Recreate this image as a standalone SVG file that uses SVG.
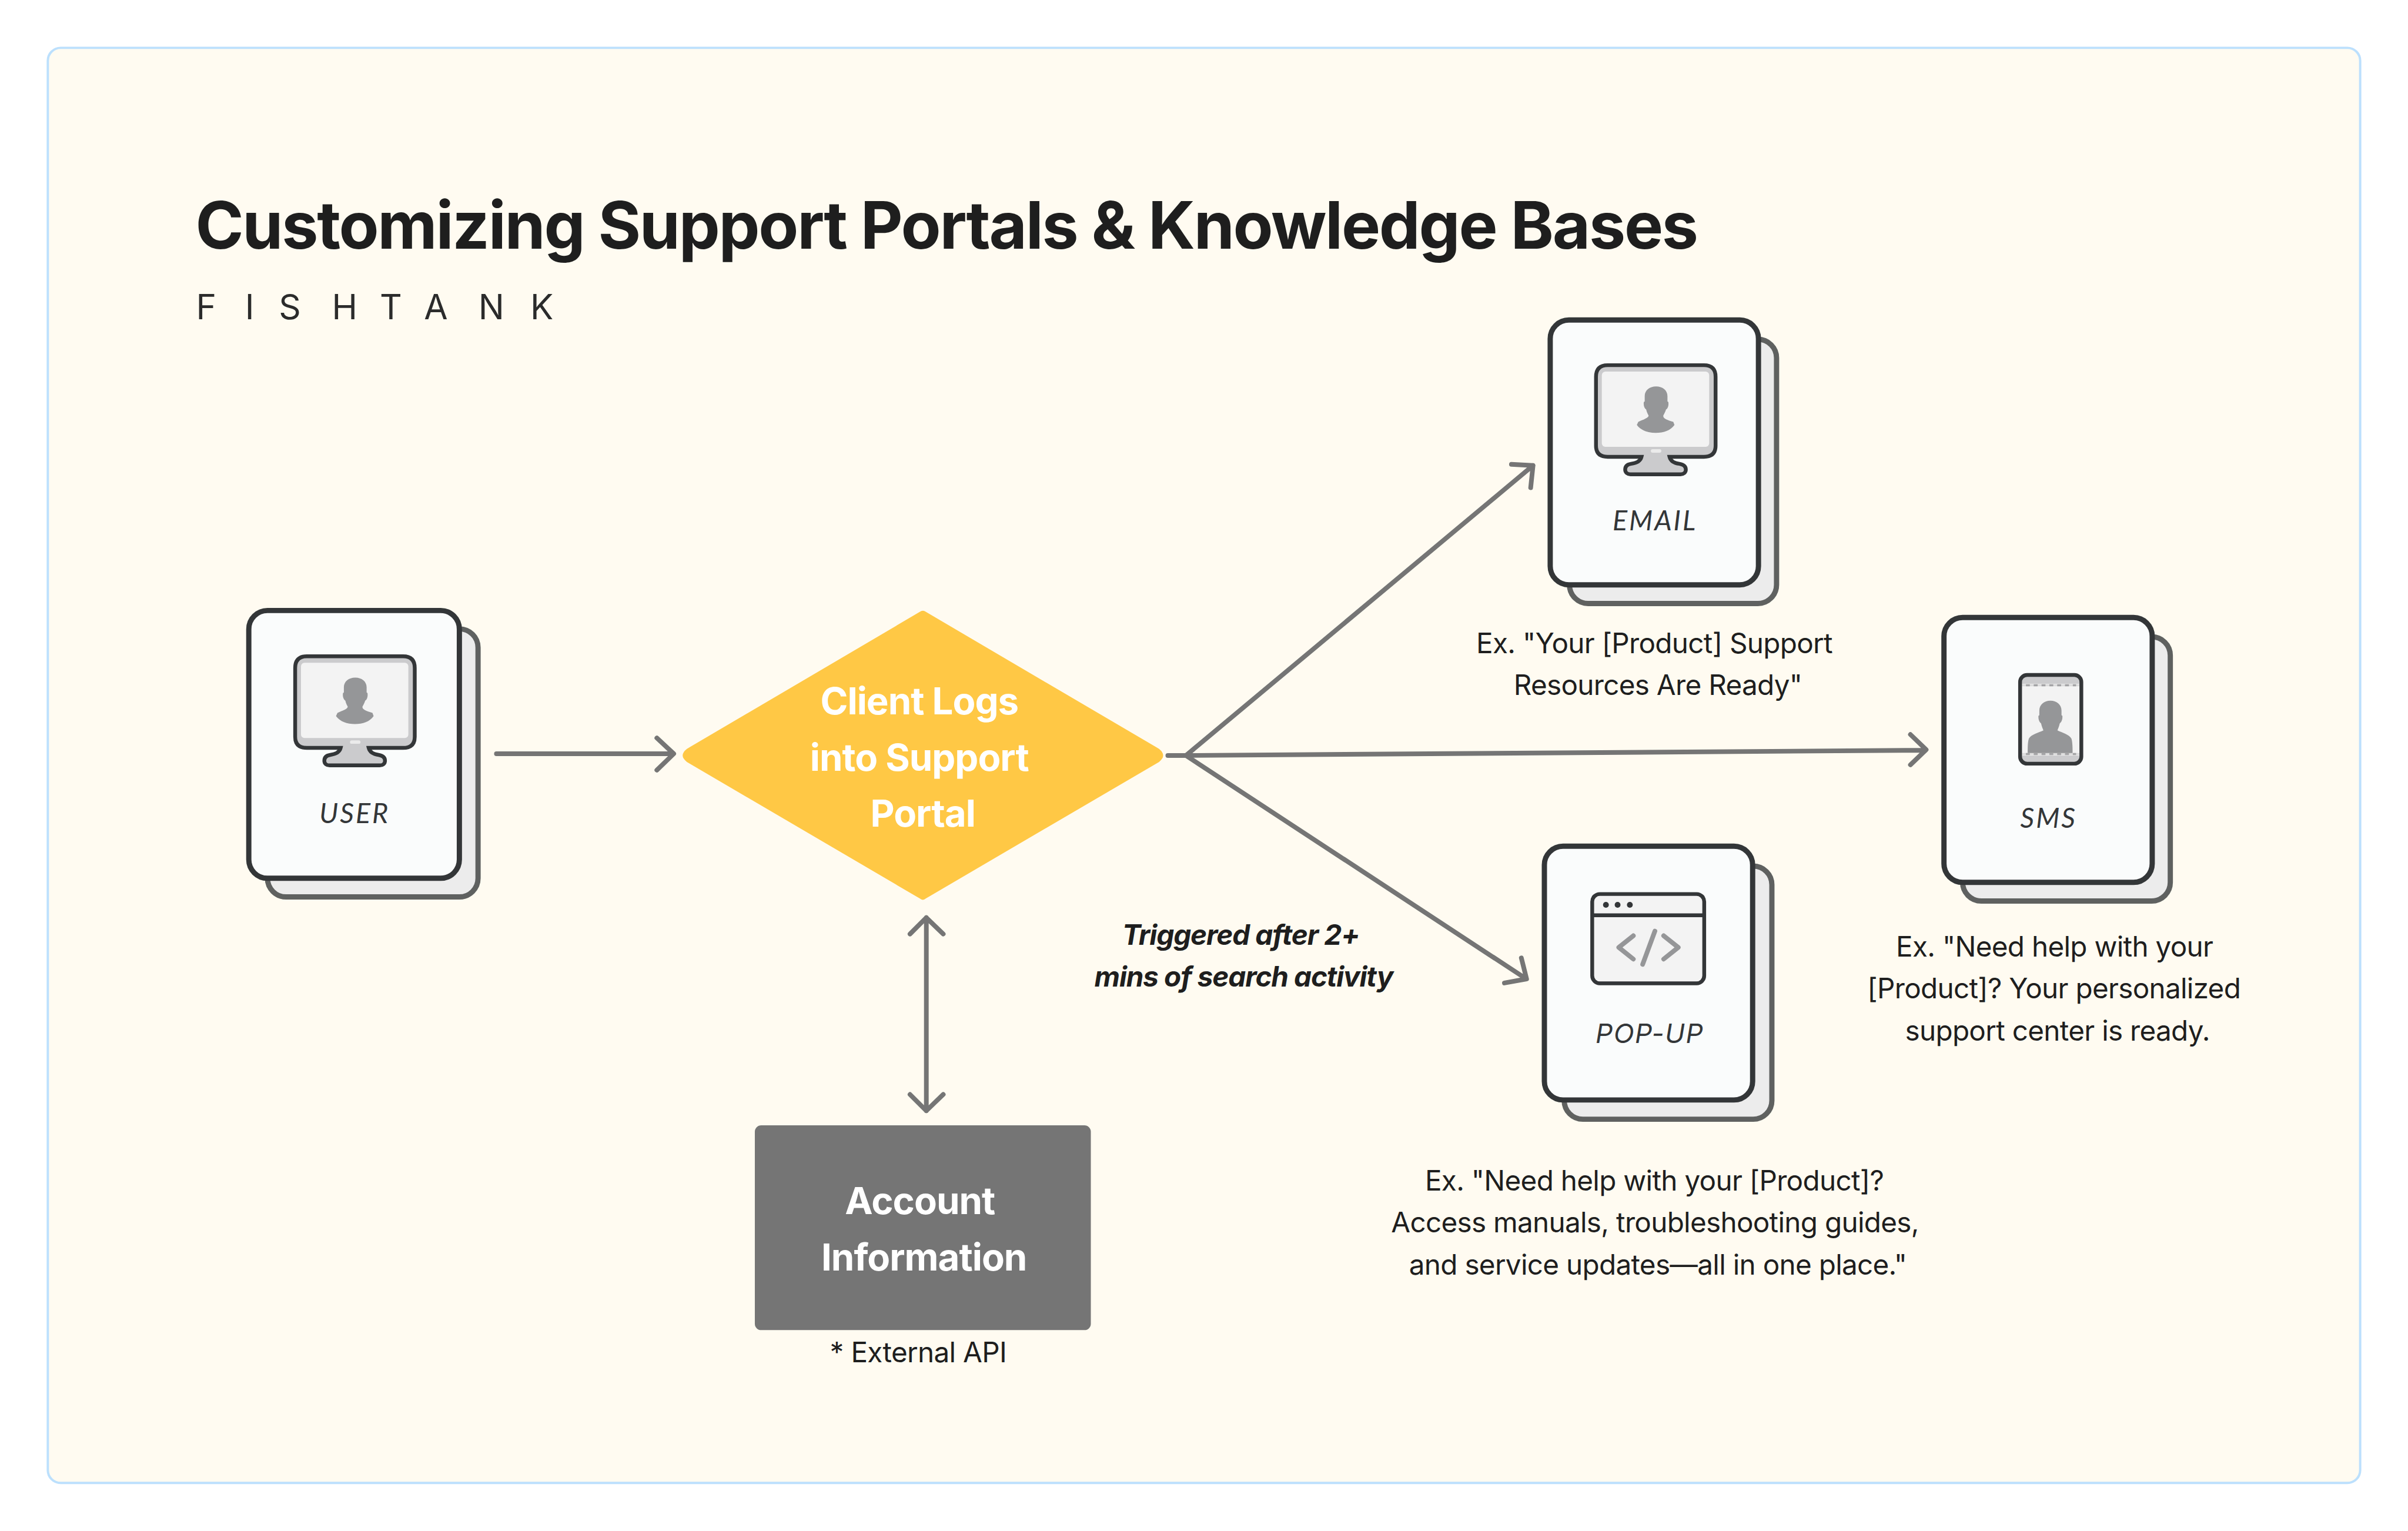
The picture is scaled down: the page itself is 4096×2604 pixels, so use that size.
<svg xmlns="http://www.w3.org/2000/svg" xmlns:xlink="http://www.w3.org/1999/xlink" width="4096" height="2604" viewBox="0 0 4096 2604">
<style>
text{font-family:Inter,"Liberation Sans",sans-serif;fill:#1e1e1e}
.title{font-size:112px;font-weight:700;letter-spacing:-2.3px}
.brand{font-size:59px;font-weight:400;fill:#2b2b2b}
.body{font-size:48px;text-anchor:middle;letter-spacing:-.7px}
.note{font-size:48px;font-weight:700;font-style:italic;text-anchor:middle;letter-spacing:-1.1px}
.wt{font-size:64px;font-weight:700;fill:#fff;text-anchor:middle;letter-spacing:-1px}
.lab{font-family:Lato,"Open Sans",sans-serif;font-size:47px;font-style:italic;fill:#333638;text-anchor:middle;letter-spacing:3px}
.lab2{font-size:46px;font-style:italic;font-weight:400;fill:#333638;text-anchor:middle;letter-spacing:1.5px}
.back{fill:#ececec;stroke:#5f6160;stroke-width:9}
.front{fill:#fafcfc;stroke:#333638;stroke-width:9}
.conn{fill:none;stroke:#757575;stroke-width:8;stroke-linecap:round;stroke-linejoin:round}
.ln{stroke:#333638;stroke-width:6.5}
.gray{fill:#959698}
</style>
<defs>
<g id="monitor">
<path d="M23 3H188Q208 3 208 23V141Q208 160 188 160H129C131 168 138 171 146 172C152 173 157 176 157 182C157 187 153 190 148 190H62C57 190 53 187 53 182C53 176 57 173 63 172C71 171 79 168 81 160H23Q3 160 3 141V23Q3 3 23 3Z" fill="#cbcbcd" class="ln"/>
<rect x="13" y="14" width="184" height="129" rx="6" fill="#f3f3f3"/>
<rect x="97" y="147" width="18" height="6" rx="3" fill="#ebebeb"/>
<path class="gray" d="M106 39.5C95 39.5 86.5 46 86.5 56V65L85 66C84 72 86 77 89 79C90 84 92 87 93 89C94 93 85 96 75.5 100L73 105.500C80 115 92 119 105.500 119C119 119 131 115 137.500 105.500L135.500 100C125 97 117 94 118.500 89C120 86 122 83 123 79C126 78 128 72 127 66L125.500 65V56C125.500 46 117 39.500 106 39.500Z"/>
</g>
</defs>
<g transform="scale(0.99225)">
<rect width="4128" height="2624" fill="#fff"/>
<rect id="panel" x="82" y="82" width="3964" height="2460" rx="22" fill="#fffbf1" stroke="#bce0fd" stroke-width="4"/>
<text class="title" x="335" y="426">Customizing Support Portals &amp; Knowledge Bases</text>
<text class="brand" x="336 420 478 569 651 727 820 909" y="547">FISHTANK</text>

<g id="connectors">
<path class="conn" d="M851 1292H1153M1126 1265L1155 1292L1126 1320"/>
<path class="conn" d="M2002 1295H2033L2628 798M2591 796L2628 798L2624 836"/>
<path class="conn" d="M2033 1295L3300 1286M3275 1259L3302 1285L3275 1311"/>
<path class="conn" d="M2033 1295L2615 1677M2608 1642L2617 1678L2579 1685"/>
<path class="conn" d="M1588 1573V1904M1560 1601L1588 1573L1617 1601M1560 1876L1588 1904L1617 1876"/>
</g>

<g id="user">
<rect class="back" x="458.500" y="1078" width="361" height="459.500" rx="32"/>
<rect class="front" x="426.500" y="1046.500" width="361" height="459" rx="32"/>
<use xlink:href="#monitor" href="#monitor" x="503" y="1122"/>
<text class="lab" x="608" y="1411">USER</text>
</g>

<g id="decision">
<path fill="#ffc845" d="M1576.600 1049Q1582 1044.500 1587.400 1049L1987 1283.600Q2001 1295 1987 1306L1587.400 1540Q1582 1545 1576.600 1540L1177.500 1306Q1163 1295 1177.500 1283.600Z"/>
<text class="wt" x="1576" y="1224">Client Logs</text>
<text class="wt" x="1576" y="1321">into Support</text>
<text class="wt" x="1582" y="1417">Portal</text>
</g>

<g id="account">
<rect x="1294" y="1929" width="576" height="351" rx="11" fill="#757575"/>
<text class="wt" x="1577" y="2081">Account</text>
<text class="wt" x="1584" y="2178">Information</text>
<text class="body" x="1574" y="2335">* External API</text>
</g>

<g id="email">
<rect class="back" x="2690.500" y="581.500" width="355" height="453" rx="32"/>
<rect class="front" x="2657.500" y="548.500" width="357" height="454" rx="32"/>
<use xlink:href="#monitor" href="#monitor" x="2733" y="623"/>
<text class="lab" x="2837" y="909">EMAIL</text>
<text class="body" x="2836" y="1120">Ex. "Your [Product] Support</text>
<text class="body" x="2842" y="1191">Resources Are Ready"</text>
</g>

<g id="sms">
<rect class="back" x="3364.500" y="1091.500" width="356" height="453" rx="32"/>
<rect class="front" x="3332.500" y="1058.500" width="357" height="454" rx="32"/>
<rect x="3463" y="1157" width="105" height="152" rx="12" fill="#f3f3f3"/>
<path fill="#cbcbcd" d="M3466 1172V1166Q3466 1160 3472 1160H3559Q3565 1160 3565 1166V1172ZM3466 1295V1300Q3466 1306 3472 1306H3559Q3565 1306 3565 1300V1295Z"/>
<path class="gray" d="M3515 1201C3504 1201 3496 1208 3496 1218V1226L3494.500 1227C3494 1233 3496 1238 3499 1240C3500 1245 3502 1249 3503 1252C3495 1256 3482 1259 3478 1266C3476 1272 3476 1282 3476 1291H3553C3553 1282 3553 1272 3551 1266C3547 1259 3535 1256 3527 1252C3528 1249 3530 1245 3531 1240C3534 1238 3536 1233 3535.500 1227L3534 1226V1218C3534 1208 3526 1201 3515 1201Z"/>
<path d="M3466 1174.500H3565M3466 1292.500H3565" stroke="#dcdcdc" stroke-width="3.500" fill="none"/>
<path d="M3473 1174.500H3559M3473 1292.500H3559" stroke="#a3a3a5" stroke-width="3.500" stroke-dasharray="6.700 6.700" fill="none"/>
<rect class="ln" x="3463" y="1157" width="105" height="152" rx="12" fill="none"/>
<text class="lab" x="3512" y="1419">SMS</text>
<text class="body" x="3522" y="1640">Ex. "Need help with your</text>
<text class="body" x="3521" y="1711">[Product]? Your personalized</text>
<text class="body" x="3527" y="1784">support center is ready.</text>
</g>

<g id="popup">
<rect class="back" x="2681.500" y="1484.500" width="356" height="434" rx="32"/>
<rect class="front" x="2647.500" y="1450.500" width="357" height="435" rx="32"/>
<rect class="ln" x="2729.500" y="1532.500" width="192" height="153" rx="13" fill="#f3f3f3"/>
<path class="ln" d="M2729.500 1569H2921.500" fill="none"/>
<circle cx="2753" cy="1551" r="5" fill="#333638"/><circle cx="2773" cy="1551" r="5" fill="#333638"/><circle cx="2794" cy="1551" r="5" fill="#333638"/>
<path d="M2800 1604L2775 1624L2800 1644M2852 1604L2877 1624L2852 1644M2837 1596L2816 1653" fill="none" stroke="#959698" stroke-width="8" stroke-linecap="round" stroke-linejoin="round"/>
<text class="lab2" x="2828" y="1788">POP-UP</text>
<text class="body" x="2836" y="2041">Ex. "Need help with your [Product]?</text>
<text class="body" x="2837" y="2112">Access manuals, troubleshooting guides,</text>
<text class="body" x="2842" y="2185">and service updates—all in one place."</text>
</g>

<g id="trigger-note">
<text class="note" x="2127" y="1620">Triggered after 2+</text>
<text class="note" x="2132" y="1691">mins of search activity</text>
</g>
</g>
</svg>
